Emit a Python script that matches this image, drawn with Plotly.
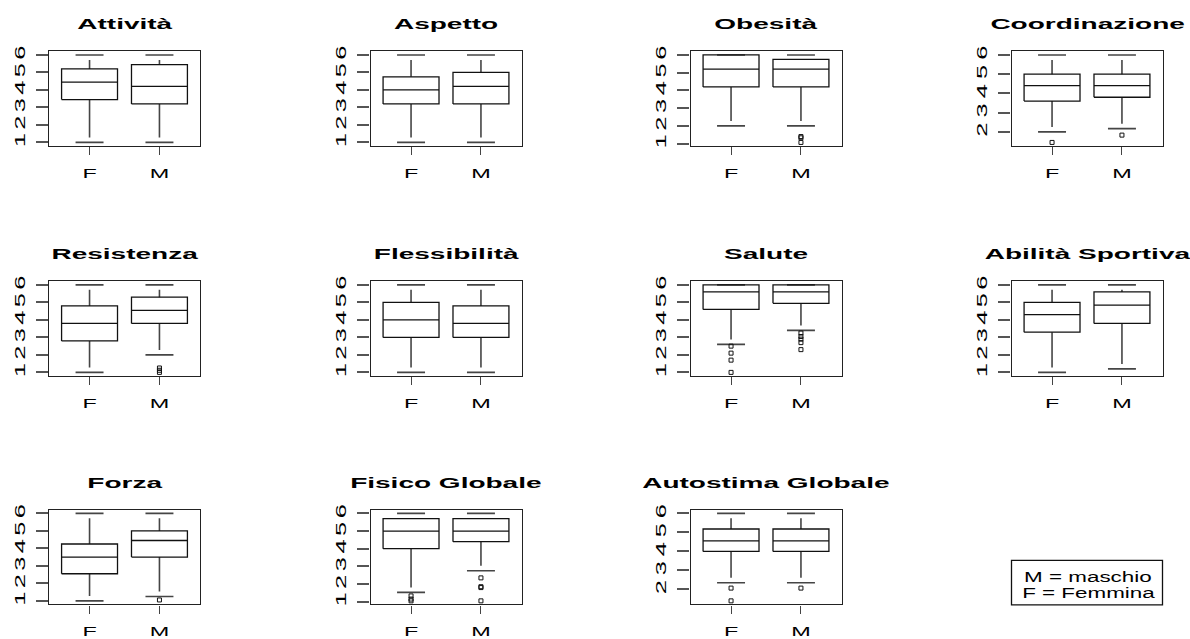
import json
import math
import plotly.graph_objects as go

W, H = 1190, 639

# Scale names (panel order: left to right, top to bottom)
titles = ["Attività", "Aspetto", "Obesità", "Coordinazione",
          "Resistenza", "Flessibilità", "Salute", "Abilità Sportiva",
          "Forza", "Fisico Globale", "Autostima Globale"]
groups = ["F", "M"]
legend_lines = ["M = maschio", "F = Femmina"]

# Box statistics, females
lo_F  = [1.0, 1.0, 2.0, 2.0, 1.0, 1.0, 2.6, 1.0, 1.0, 1.53, 2.35]
q1_F  = [3.45, 3.2, 4.2, 3.6, 2.8, 3.0, 4.6, 3.3, 2.55, 4.0, 4.0]
med_F = [4.45, 4.0, 5.2, 4.4, 3.8, 4.0, 5.6, 4.3, 3.5, 5.0, 4.55]
q3_F  = [5.2, 4.75, 6.0, 5.0, 4.8, 5.0, 6.0, 5.0, 4.25, 5.7, 5.18]
hi_F  = [6.0, 6.0, 6.0, 6.0, 6.0, 6.0, 6.0, 6.0, 6.0, 6.0, 6.0]
out_F = [[], [], [], [1.45], [], [], [2.5, 2.1, 1.7, 1.0], [], [],
         [1.33, 1.15, 1.05], [2.07, 1.4]]

# Box statistics, males
lo_M  = [1.0, 1.0, 2.0, 2.17, 2.0, 1.0, 3.4, 1.2, 1.25, 2.75, 2.35]
q1_M  = [3.2, 3.2, 4.2, 3.8, 3.8, 3.0, 4.95, 3.8, 3.5, 4.4, 4.0]
med_M = [4.2, 4.2, 5.2, 4.4, 4.55, 3.8, 5.6, 4.85, 4.45, 5.0, 4.55]
q3_M  = [5.45, 5.0, 5.75, 5.0, 5.3, 4.8, 6.0, 5.6, 5.0, 5.7, 5.18]
hi_M  = [6.0, 6.0, 6.0, 6.0, 6.0, 6.0, 6.0, 6.0, 6.0, 6.0, 6.0]
out_M = [[], [], [1.4, 1.33, 1.07], [1.83], [1.25, 1.12, 1.0], [],
         [3.25, 3.05, 2.9, 2.7, 2.3], [], [1.05],
         [2.35, 1.85, 1.8, 1.05], [2.07]]

# Panel geometry in pixels
col_left = [49, 370.5, 690.5, 1011.5]
row_top = [49, 281.5, 512.5]
pw, ph = 151, 95.5
box_w, cap_w = 0.8, 0.4
whisk_gap_px = 5

FONT = "Liberation Sans, Arial, sans-serif"
BOX_C, WHISK_C, FRAME_C = "#111111", "#454545", "#222222"

fig = go.Figure()
layout = {}

for i, title in enumerate(titles):
    r, c = divmod(i, 4)
    n = "" if i == 0 else str(i + 1)
    xa, ya = "x" + n, "y" + n
    left, top = col_left[c], row_top[r]

    stats = [(lo_F[i], q1_F[i], med_F[i], q3_F[i], hi_F[i], out_F[i]),
             (lo_M[i], q1_M[i], med_M[i], q3_M[i], hi_M[i], out_M[i])]

    all_vals = [s[0] for s in stats] + [v for s in stats for v in s[5]]
    ymin = min(all_vals)
    ymax = max(s[4] for s in stats)
    pad = 0.04 * (ymax - ymin)
    yr = [ymin - pad, ymax + pad]
    gap = whisk_gap_px * (yr[1] - yr[0]) / ph

    bx, by, wx, wy, cx, cy, ox, oy = [], [], [], [], [], [], [], []
    for k, (lo, q1, md, q3, hi, outs) in enumerate(stats):
        x0 = k + 1
        a, b = x0 - box_w / 2, x0 + box_w / 2
        bx += [a, b, b, a, a, None, a, b, None]
        by += [q1, q1, q3, q3, q1, None, md, md, None]
        if hi - q3 > gap:
            wx += [x0, x0, None]
            wy += [q3, hi - gap, None]
        if q1 - lo > gap:
            wx += [x0, x0, None]
            wy += [q1, lo + gap, None]
        cx += [x0 - cap_w / 2, x0 + cap_w / 2, None, x0 - cap_w / 2, x0 + cap_w / 2, None]
        cy += [hi, hi, None, lo, lo, None]
        ox += [x0] * len(outs)
        oy += list(outs)

    fig.add_trace(go.Scatter(x=wx, y=wy, mode="lines", xaxis=xa, yaxis=ya,
                             line=dict(color=WHISK_C, width=1.6), hoverinfo="skip"))
    fig.add_trace(go.Scatter(x=cx, y=cy, mode="lines", xaxis=xa, yaxis=ya,
                             line=dict(color=WHISK_C, width=1.6), hoverinfo="skip"))
    fig.add_trace(go.Scatter(x=bx, y=by, mode="lines", xaxis=xa, yaxis=ya,
                             line=dict(color=BOX_C, width=1.3), hoverinfo="skip"))
    if ox:
        fig.add_trace(go.Scatter(x=ox, y=oy, mode="markers", xaxis=xa, yaxis=ya,
                                 marker=dict(symbol="square-open", size=4, color=BOX_C,
                                             line=dict(width=1, color=BOX_C))))

    # integer ticks inside the visible range
    yticks = list(range(math.ceil(yr[0]), int(math.floor(yr[1])) + 1))
    layout["xaxis" + n] = dict(
        domain=[left / W, (left + pw) / W], range=[0.42, 2.58], anchor=ya,
        tickvals=[1, 2], ticktext=groups, ticks="outside", ticklen=8,
        tickwidth=1.3, tickcolor="#444", showline=True, mirror=True,
        linecolor=FRAME_C, linewidth=1.4, showgrid=False, zeroline=False,
        ticklabelstandoff=7, tickfont=dict(family=FONT, size=13, color="#000"),
        fixedrange=True)
    layout["yaxis" + n] = dict(
        domain=[1 - (top + ph) / H, 1 - top / H], range=yr, anchor=xa,
        tickvals=yticks, ticktext=[str(t) for t in yticks], tickangle=-90,
        ticks="outside", ticklen=12, tickwidth=1.6, tickcolor="#555",
        showline=True, mirror=True, linecolor=FRAME_C, linewidth=1.4,
        showgrid=False, zeroline=False, ticklabelstandoff=5,
        tickfont=dict(family=FONT, size=15, color="#000"), fixedrange=True)

annotations = []
for i, title in enumerate(titles):
    r, c = divmod(i, 4)
    annotations.append(dict(
        text=title, xref="paper", yref="paper",
        x=(col_left[c] + pw / 2) / W, y=1 - (row_top[r] - 27.5) / H,
        xanchor="center", yanchor="middle", showarrow=False,
        font=dict(family=FONT, size=14, color="#000", weight="bold")))

# Key for the group codes
key_left, key_top, key_bottom = col_left[3], 563.5, 608.5
for j, line in enumerate(legend_lines):
    annotations.append(dict(
        text=line, xref="paper", yref="paper",
        x=(key_left + pw / 2 + 1) / W, y=1 - (580 + 16.5 * j) / H,
        xanchor="center", yanchor="middle", showarrow=False,
        font=dict(family=FONT, size=14, color="#000")))

shapes = [dict(type="rect", xref="paper", yref="paper",
               x0=key_left / W, x1=(key_left + pw) / W,
               y0=1 - key_bottom / H, y1=1 - key_top / H,
               line=dict(color="#111", width=1.3))]

fig.update_layout(
    width=W, height=H, margin=dict(l=0, r=0, t=0, b=0),
    paper_bgcolor="white", plot_bgcolor="white", showlegend=False,
    annotations=annotations, shapes=shapes, **layout)

# Widen the lettering along the baseline
post = """
document.body.style.margin = '0';
var gd = document.getElementById('{plot_id}');
var titleSet = %s;
function widen(el, k) {
  var w = el.getComputedTextLength();
  if (w > 0) {
    el.setAttribute('textLength', (w * k).toFixed(2));
    el.setAttribute('lengthAdjust', 'spacingAndGlyphs');
  }
}
gd.querySelectorAll('text.annotation-text').forEach(function (t) {
  widen(t, titleSet.indexOf(t.textContent) >= 0 ? 2.0 : 1.6);
});
gd.querySelectorAll('g[class$="tick"] > text').forEach(function (t) {
  var cls = t.parentNode.getAttribute('class');
  widen(t, cls.charAt(0) === 'x' ? 1.8 : 1.7);
});
""" % json.dumps(titles)

fig.write_html("out.html", config={"responsive": False, "displayModeBar": False},
               post_script=post)
